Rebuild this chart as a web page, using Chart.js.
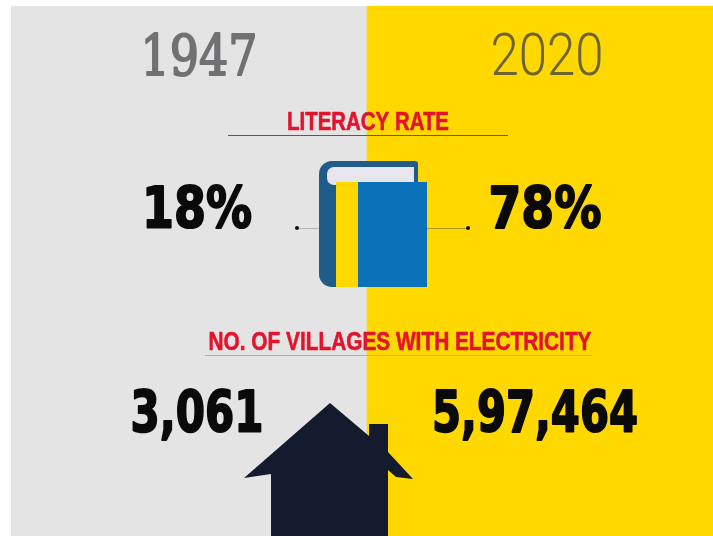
<!DOCTYPE html>
<html>
<head>
<meta charset="utf-8">
<title>1947 vs 2020</title>
<script src="https://cdn.jsdelivr.net/npm/chart.js@4"></script>
<style>
  html, body { margin: 0; padding: 0; background: #fff; overflow: hidden; width: 713px; height: 536px; }
  canvas { display: block; filter: blur(0.5px); }
</style>
</head>
<body>
<canvas id="chart" width="723" height="536"></canvas>
<script>
const years = ["1947", "2020"];
const panelValues = [1, 1];
const literacyRate = [18, 78];
const villages = [3061, 597464];
const metricTitles = ["LITERACY RATE", "NO. OF VILLAGES WITH ELECTRICITY"];

const RED = "#e2142d";
const INK = "#0a0a0a";

// draws centred text squeezed to the given width, heavy thickens the strokes
function drawText(ctx, text, x, y, font, color, width, heavy) {
  ctx.save();
  ctx.font = font;
  ctx.fillStyle = color;
  ctx.strokeStyle = color;
  ctx.lineWidth = heavy || 0;
  ctx.lineJoin = "round";
  ctx.textAlign = "center";
  ctx.textBaseline = "alphabetic";
  ctx.translate(x, y);
  ctx.scale(width / ctx.measureText(text).width, 1);
  ctx.fillText(text, 0, 0);
  if (heavy) {
    ctx.strokeText(text, 0, 0);
  }
  ctx.restore();
}

function polygon(ctx, color, points) {
  ctx.fillStyle = color;
  ctx.beginPath();
  points.forEach(([x, y], i) => (i ? ctx.lineTo(x, y) : ctx.moveTo(x, y)));
  ctx.closePath();
  ctx.fill();
}

function rule(ctx, x1, x2, y, color) {
  ctx.strokeStyle = color;
  ctx.lineWidth = 1;
  ctx.beginPath();
  ctx.moveTo(x1, y + 0.5);
  ctx.lineTo(x2, y + 0.5);
  ctx.stroke();
}

function drawBook(ctx) {
  // connector lines and end dots
  rule(ctx, 297, 340, 228, "#b4b4b4");
  rule(ctx, 425, 468, 228, "#a89a30");
  ctx.fillStyle = "#111";
  [297, 468].forEach((x) => {
    ctx.beginPath();
    ctx.arc(x, 228, 2, 0, Math.PI * 2);
    ctx.fill();
  });

  // back cover
  ctx.fillStyle = "#1f5c8a";
  ctx.beginPath();
  ctx.roundRect(319, 161, 99, 126, [13, 3, 0, 13]);
  ctx.fill();
  // pages
  ctx.fillStyle = "#e6e6ec";
  ctx.beginPath();
  ctx.roundRect(327, 167, 87, 18, [7, 0, 0, 7]);
  ctx.fill();
  // front cover
  ctx.fillStyle = "#ffd800";
  ctx.fillRect(336, 182, 22, 105);
  ctx.fillStyle = "#0b72b9";
  ctx.fillRect(358, 182, 69, 105);
}

function drawHouse(ctx) {
  polygon(ctx, "#141b2f", [
    [330, 403], [369, 436], [369, 424], [388, 424], [388, 452], [413, 479],
    [396, 477], [388, 470], [388, 536], [271, 536], [271, 474], [244, 478]
  ]);
}

const infographicText = {
  id: "infographicText",
  afterDatasetsDraw(chart) {
    const { ctx } = chart;
    const xScale = chart.scales.x;
    const left = xScale.getPixelForValue(0);
    const right = xScale.getPixelForValue(1);

    ctx.save();
    drawText(ctx, years[0], left + 10, 75, "56px 'DejaVu Serif'", "#717173", 117, 2);
    drawText(ctx, years[1], right + 2, 75, "300 59px Roboto", "#6c6433", 113);

    drawBook(ctx);
    drawHouse(ctx);

    drawText(ctx, metricTitles[0], 368, 130, "bold 25px 'Liberation Sans'", RED, 162, 0.6);
    rule(ctx, 228, 508, 135, "#5a5a5a");
    drawText(ctx, metricTitles[1], 400, 350, "bold 25px 'Liberation Sans'", RED, 383, 0.6);
    rule(ctx, 205, 592, 355, "#b9a9a0");

    const bigFont = "bold 57px 'DejaVu Sans'";
    drawText(ctx, literacyRate[0] + "%", left + 8, 228, bigFont, INK, 110, 2);
    drawText(ctx, literacyRate[1] + "%", right, 228, bigFont, INK, 113, 2);
    drawText(ctx, villages[0].toLocaleString("en-IN"), left + 8, 432, bigFont, INK, 133, 2);
    drawText(ctx, villages[1].toLocaleString("en-IN"), right - 10, 432, bigFont, INK, 206, 2);
    ctx.restore();
  }
};

new Chart(document.getElementById("chart").getContext("2d"), {
  type: "bar",
  data: {
    labels: years,
    datasets: [{
      label: "Panel",
      data: panelValues,
      backgroundColor: ["#e4e4e4", "#ffd800"],
      barPercentage: 1,
      categoryPercentage: 1,
      borderWidth: 0
    }]
  },
  options: {
    responsive: false,
    animation: false,
    layout: { padding: { left: 11, top: 6, right: 0, bottom: 0 } },
    plugins: { legend: { display: false }, tooltip: { enabled: false } },
    scales: {
      x: { display: false },
      y: { display: false, min: 0, max: 1 }
    }
  },
  plugins: [infographicText]
});
</script>
</body>
</html>
